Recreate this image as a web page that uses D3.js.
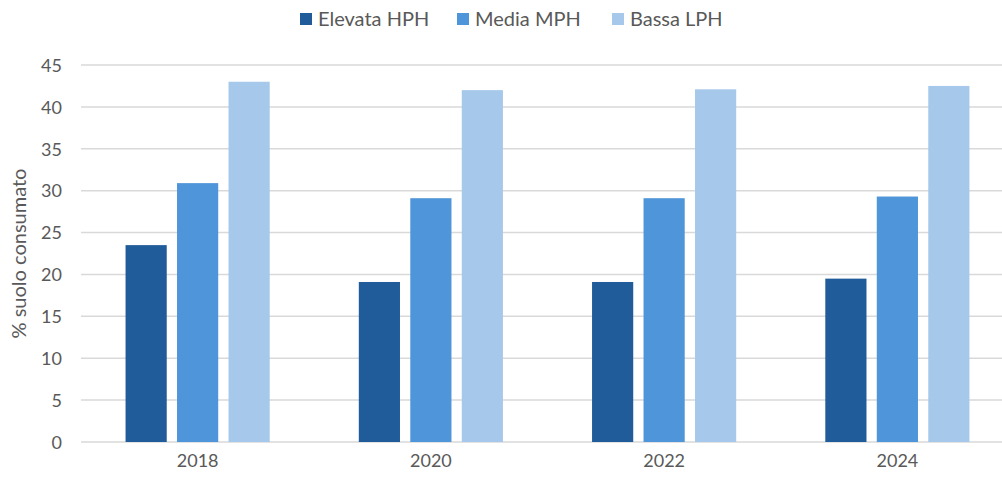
<!DOCTYPE html>
<html lang="it">
<head>
    <meta charset="UTF-8">
    <title>Suolo consumato</title>
    <script src="https://d3js.org/d3.v7.min.js"></script>
    <style>
        body { margin: 0; background: #fff; }
        text { font-family: Lato, "Open Sans", sans-serif; fill: #595959; }
    </style>
</head>
<body>
<script>
    // dati
    var anni = ["2018", "2020", "2022", "2024"];
    var serie = ["Elevata HPH", "Media MPH", "Bassa LPH"];
    var elevata = [23.5, 19.1, 19.1, 19.5];
    var media = [30.9, 29.1, 29.1, 29.3];
    var bassa = [43.0, 42.0, 42.1, 42.5];
    var yTicks = [0, 5, 10, 15, 20, 25, 30, 35, 40, 45];
    var colori = ["#1f5c99", "#4f95d9", "#a6c9eb"];

    var valori = [elevata, media, bassa];

    var W = 1002, H = 481;
    var margin = {top: 65, right: -12, bottom: 39, left: 81};

    var svg = d3.select("body").append("svg")
        .attr("width", W)
        .attr("height", H);

    var x0 = d3.scaleBand()
        .domain(anni)
        .range([margin.left, W - margin.right])
        .paddingInner(0.382)
        .paddingOuter(0.191);

    var x1 = d3.scaleBand()
        .domain(serie)
        .range([0, x0.bandwidth()])
        .paddingInner(0.2)
        .paddingOuter(0);

    var y = d3.scaleLinear()
        .domain([0, 45])
        .range([H - margin.bottom, margin.top]);

    // griglia
    svg.append("g")
        .selectAll("line")
        .data(yTicks)
        .enter()
        .append("line")
            .attr("x1", margin.left)
            .attr("x2", W - margin.right)
            .attr("y1", d => y(d))
            .attr("y2", d => y(d))
            .attr("stroke", "#d9d9d9")
            .attr("stroke-width", 1.5);

    // asse y
    var yAxis = svg.append("g")
        .attr("transform", "translate(" + (margin.left - 19) + ",0)")
        .call(d3.axisLeft(y).tickValues(yTicks).tickSize(0).tickPadding(0));
    yAxis.select(".domain").remove();
    yAxis.selectAll("text")
        .style("font-size", "18px")
        .attr("dy", "0.35em");

    // asse x
    var xAxis = svg.append("g")
        .attr("transform", "translate(0," + y(0) + ")")
        .call(d3.axisBottom(x0).tickSize(0).tickPadding(12));
    xAxis.select(".domain").remove();
    xAxis.selectAll("text")
        .style("font-size", "18px");

    // barre
    var gruppi = svg.append("g")
        .selectAll("g")
        .data(anni)
        .enter()
        .append("g")
            .attr("transform", d => "translate(" + x0(d) + ",0)");

    gruppi.selectAll("rect")
        .data((d, i) => serie.map((s, j) => ({s: s, v: valori[j][i], c: colori[j]})))
        .enter()
        .append("rect")
            .attr("x", d => x1(d.s))
            .attr("y", d => y(d.v))
            .attr("width", x1.bandwidth())
            .attr("height", d => y(0) - y(d.v))
            .attr("fill", d => d.c);

    // titolo asse y
    svg.append("text")
        .attr("transform", "translate(26," + ((y(0) + y(45)) / 2) + ") rotate(-90)")
        .attr("text-anchor", "middle")
        .style("font-size", "20px")
        .text("% suolo consumato");

    // legenda
    var legX = [300, 457, 612];
    var leg = svg.append("g")
        .selectAll("g")
        .data(serie)
        .enter()
        .append("g")
            .attr("transform", (d, i) => "translate(" + legX[i] + ",13)");
    leg.append("rect")
        .attr("width", 12)
        .attr("height", 12)
        .attr("fill", (d, i) => colori[i]);
    leg.append("text")
        .attr("x", 18)
        .attr("y", 6)
        .attr("dy", "0.35em")
        .style("font-size", "20px")
        .text(d => d);
</script>
</body>
</html>
